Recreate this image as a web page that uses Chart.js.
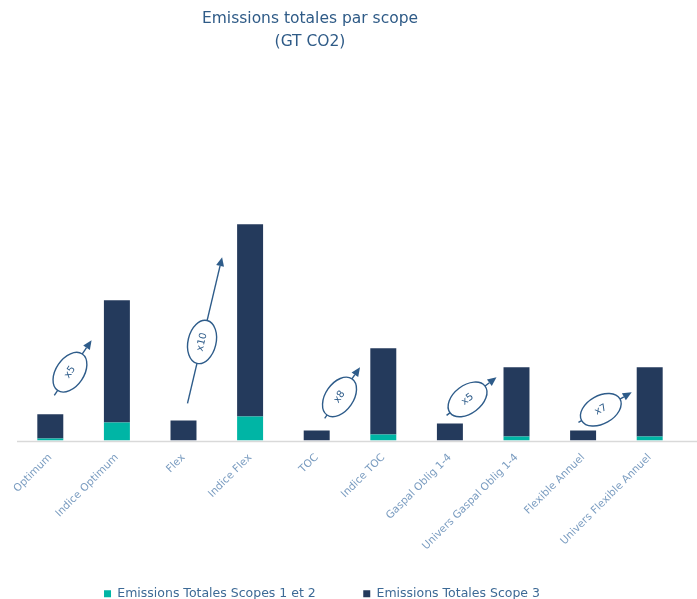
<!DOCTYPE html>
<html><head><meta charset="utf-8">
<script src="https://cdn.jsdelivr.net/npm/chart.js@4.4.1/dist/chart.umd.min.js"></script>
<style>html,body{margin:0;padding:0;background:#fff;} #wrap{width:697px;height:599px;position:relative;}</style>
</head><body><div id="wrap"><canvas id="c"></canvas></div>
<script>
const categories = ['Optimum','Indice Optimum','Flex','Indice Flex','TOC','Indice TOC','Gaspal Oblig 1-4','Univers Gaspal Oblig 1-4','Flexible Annuel','Univers Flexible Annuel'];
const scope12 = [2, 18, 0, 24, 0, 6, 0, 4, 0, 4];
const scope3 = [24, 122, 20, 192, 10, 86, 17, 69, 10, 69];
const seriesNames = ['Emissions Totales Scopes 1 et 2', 'Emissions Totales Scope 3'];
const titleLines = ['Emissions totales par scope', '(GT CO2)'];
// multiplier annotations: [category index, value] from -> to
const multLabels = ['x5', 'x10', 'x8', 'x5', 'x7'];
const arrowFrom = [[0.06, 45], [2.06, 37], [4.12, 22], [5.95, 25], [7.93, 18]];
const arrowTo = [[0.62, 100], [2.58, 183], [4.65, 73], [6.70, 63], [8.73, 48]];

const NAVY = '#243a5c', TEAL = '#00b5a5', ARROW = '#2e5c8a';
const BOTTOM_PAD = 11, LEGEND_DOWN = 22;

const multPlugin = {
  id: 'mult',
  afterDatasetsDraw(chart) {
    const {ctx, scales: {x, y}} = chart;
    multLabels.forEach((lab, i) => {
      const x0 = x.getPixelForValue(arrowFrom[i][0]), y0 = y.getPixelForValue(arrowFrom[i][1]);
      const x1 = x.getPixelForValue(arrowTo[i][0]), y1 = y.getPixelForValue(arrowTo[i][1]);
      const ang = Math.atan2(y1 - y0, x1 - x0);
      const c = Math.cos(ang), s = Math.sin(ang);
      const hl = 9, hw = 4;
      ctx.save();
      ctx.strokeStyle = ARROW; ctx.fillStyle = ARROW; ctx.lineWidth = 1.4;
      ctx.beginPath(); ctx.moveTo(x0, y0); ctx.lineTo(x1 - hl * c, y1 - hl * s); ctx.stroke();
      ctx.beginPath(); ctx.moveTo(x1, y1);
      ctx.lineTo(x1 - hl * c - hw * s, y1 - hl * s + hw * c);
      ctx.lineTo(x1 - hl * c + hw * s, y1 - hl * s - hw * c);
      ctx.closePath(); ctx.fill();
      const t = 0.42;
      const cx = x0 + (x1 - x0) * t, cy = y0 + (y1 - y0) * t;
      ctx.translate(cx, cy); ctx.rotate(ang);
      ctx.beginPath(); ctx.ellipse(0, 0, 22, 14, 0, 0, Math.PI * 2);
      ctx.fillStyle = '#fff'; ctx.fill(); ctx.stroke();
      ctx.fillStyle = ARROW; ctx.font = '10px "DejaVu Sans"';
      ctx.textAlign = 'center'; ctx.textBaseline = 'middle';
      ctx.fillText(lab, 0, 0);
      ctx.restore();
    });
  }
};

const baselinePlugin = {
  id: 'baseline',
  beforeDatasetsDraw(chart) {
    const {ctx, chartArea} = chart;
    ctx.save();
    ctx.strokeStyle = '#d9d9d9'; ctx.lineWidth = 1.5;
    ctx.beginPath(); ctx.moveTo(chartArea.left, chartArea.bottom + 1); ctx.lineTo(chart.width, chartArea.bottom + 1); ctx.stroke();
    ctx.restore();
  }
};

const shiftPlugin = {
  id: 'shift',
  afterLayout(chart) {
    if (chart.titleBlock) { chart.titleBlock.left -= 40; chart.titleBlock.right -= 40; }
    if (chart.legend) {
      chart.legend.left -= 28; chart.legend.right -= 28;
      chart.legend.top += LEGEND_DOWN; chart.legend.bottom += LEGEND_DOWN;
    }
  }
};

new Chart(document.getElementById('c'), {
  type: 'bar',
  data: {
    labels: categories,
    datasets: [
      {label: seriesNames[0], data: scope12, backgroundColor: TEAL, barPercentage: 0.39, categoryPercentage: 1},
      {label: seriesNames[1], data: scope3, backgroundColor: NAVY, barPercentage: 0.39, categoryPercentage: 1}
    ]
  },
  options: {
    responsive: true, maintainAspectRatio: false, animation: false,
    layout: {padding: {left: 17, right: 14, top: 0, bottom: BOTTOM_PAD}},
    scales: {
      x: {stacked: true, grid: {display: false}, border: {display: false},
          ticks: {color: '#7a9cc0', font: {family: 'DejaVu Sans', size: 10.5}, maxRotation: 45, minRotation: 45, autoSkip: false}},
      y: {stacked: true, display: false, min: 0, max: 360}
    },
    plugins: {
      title: {display: true, text: titleLines, color: '#2f5b87', font: {family: 'DejaVu Sans', size: 15.5, weight: 'normal', lineHeight: 1.45}, padding: {top: 8, bottom: 27}},
      legend: {position: 'bottom', labels: {color: '#3d6a96', font: {family: 'DejaVu Sans', size: 12.5}, boxWidth: 7, boxHeight: 7, padding: 10,
        generateLabels(chart) {
          const items = Chart.defaults.plugins.legend.labels.generateLabels(chart);
          items.forEach((it, i) => { it.lineWidth = 0; if (i === 0) it.text = it.text + '\u2003\u2003\u2003'; });
          return items;
        }}},
      tooltip: {enabled: false}
    }
  },
  plugins: [multPlugin, baselinePlugin, shiftPlugin]
});
</script></body></html>
